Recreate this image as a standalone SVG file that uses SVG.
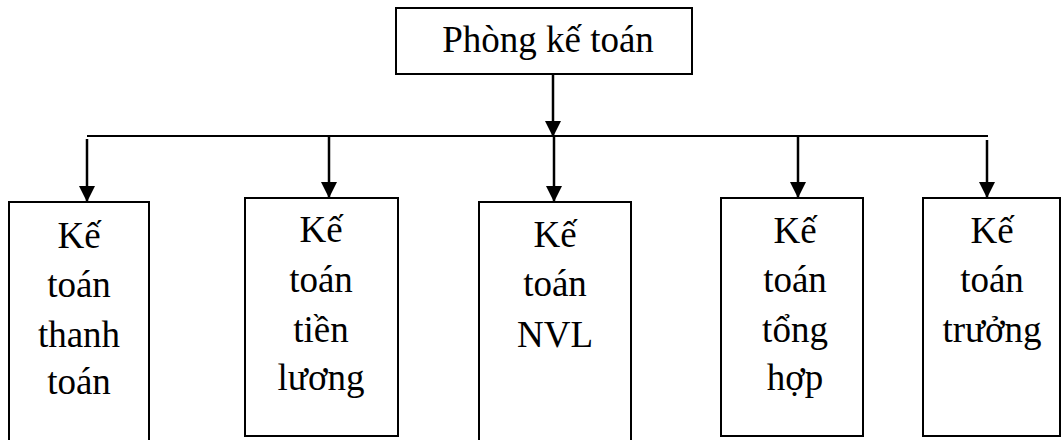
<svg xmlns="http://www.w3.org/2000/svg" width="1062" height="440" viewBox="0 0 1062 440">
  <style>
    .box { fill: #fff; stroke: #000; stroke-width: 2; }
    .lbl { font-family: "Liberation Serif", "Times New Roman", serif; font-size: 37px; fill: #000; text-anchor: middle; }
    .wire { stroke: #000; stroke-width: 2; fill: none; }
    .arrow { stroke: #000; stroke-width: 2.5; fill: none; marker-end: url(#head); }
  </style>
  <defs>
    <marker id="head" markerUnits="userSpaceOnUse" markerWidth="16" markerHeight="16" viewBox="0 0 16 16" refX="16" refY="8" orient="auto">
      <path d="M0,0 L16,8 L0,16 Z" fill="#000"/>
    </marker>
  </defs>

  <!-- connectors -->
  <g id="connectors">
    <line class="arrow" x1="553" y1="74" x2="553" y2="137"/>
    <line class="wire" x1="87" y1="136" x2="988" y2="136"/>
    <line class="arrow" x1="87" y1="139" x2="87" y2="202"/>
    <line class="arrow" x1="329" y1="136" x2="329" y2="198"/>
    <line class="arrow" x1="554" y1="136" x2="554" y2="202"/>
    <line class="arrow" x1="798" y1="136" x2="798" y2="198"/>
    <line class="arrow" x1="987" y1="140" x2="987" y2="198"/>
  </g>

  <!-- head office -->
  <g id="phong-ke-toan">
    <rect class="box" x="396" y="8" width="296" height="66"/>
    <text class="lbl" x="548" y="52">Phòng kế toán</text>
  </g>

  <g id="ke-toan-thanh-toan">
    <rect class="box" x="9" y="202" width="140" height="250"/>
    <text class="lbl" x="79" y="248">Kế</text>
    <text class="lbl" x="79" y="297">toán</text>
    <text class="lbl" x="79" y="347">thanh</text>
    <text class="lbl" x="79" y="394">toán</text>
  </g>

  <g id="ke-toan-tien-luong">
    <rect class="box" x="245" y="198" width="153" height="238"/>
    <text class="lbl" x="321" y="242">Kế</text>
    <text class="lbl" x="321" y="292">toán</text>
    <text class="lbl" x="321" y="342">tiền</text>
    <text class="lbl" x="321" y="390">lương</text>
  </g>

  <g id="ke-toan-nvl">
    <rect class="box" x="479" y="202" width="152" height="250"/>
    <text class="lbl" x="555" y="247">Kế</text>
    <text class="lbl" x="555" y="296">toán</text>
    <text class="lbl" x="555" y="347">NVL</text>
  </g>

  <g id="ke-toan-tong-hop">
    <rect class="box" x="721" y="198" width="142" height="238"/>
    <text class="lbl" x="795" y="243">Kế</text>
    <text class="lbl" x="795" y="292">toán</text>
    <text class="lbl" x="795" y="342">tổng</text>
    <text class="lbl" x="795" y="390">hợp</text>
  </g>

  <g id="ke-toan-truong">
    <rect class="box" x="923" y="198" width="137" height="238"/>
    <text class="lbl" x="992" y="243">Kế</text>
    <text class="lbl" x="992" y="292">toán</text>
    <text class="lbl" x="992" y="342">trưởng</text>
  </g>
</svg>
